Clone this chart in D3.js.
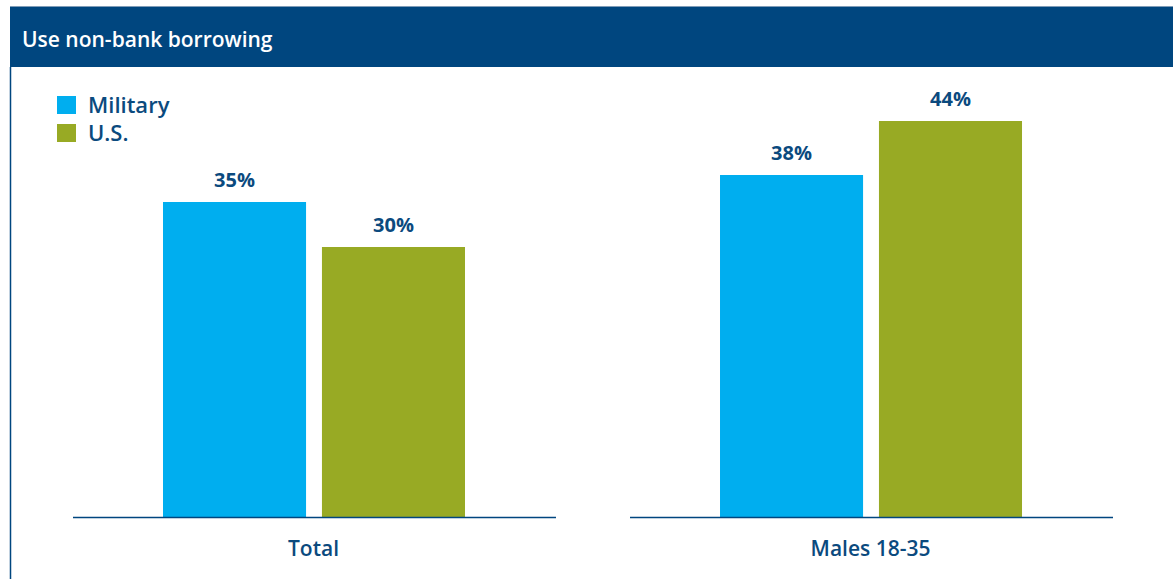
<!DOCTYPE html>
<html>
<head>
<meta charset="utf-8">
<script src="https://cdn.jsdelivr.net/npm/d3@7"></script>
<style>
  body { margin: 0; background: #fff; }
  svg { display: block; font-family: "Open Sans", sans-serif; }
</style>
</head>
<body>
<script>
// data
var categories = ["Total", "Males 18-35"];
var seriesNames = ["Military", "U.S."];
var military = [35, 38];
var us = [30, 44];
var colors = ["#00aeef", "#98aa24"];
var title = "Use non-bank borrowing";

var W = 1173, H = 579;
var textBlue = "#0b4a7e";
var headBlue = "#00467f";

var svg = d3.select("body").append("svg")
            .attr("width", W)
            .attr("height", H);

// header band
svg.append("rect")
   .attr("x", 10).attr("y", 6)
   .attr("width", W - 10).attr("height", 61)
   .style("fill", headBlue);
svg.append("line")
   .attr("x1", 10).attr("x2", W).attr("y1", 6.5).attr("y2", 6.5)
   .style("stroke", "#7f9cb8").style("stroke-width", 1);
svg.append("text")
   .attr("x", 22).attr("y", 47)
   .style("fill", "#fff")
   .style("font-size", "21px")
   .style("font-weight", 600)
   .text(title);

// left border
svg.append("line")
   .attr("x1", 10.5).attr("x2", 10.5).attr("y1", 67).attr("y2", H)
   .style("stroke", headBlue).style("stroke-width", 1.5);

// scales
var y = d3.scaleLinear().domain([0, 44]).range([517, 121]);
var x0 = d3.scaleBand().domain(categories).range([73, 1113]).paddingInner(0.1329);
var x1 = d3.scaleBand().domain(seriesNames).range([90, 392]).paddingInner(0.1);

var rows = categories.map(function(c, i){
  return {cat: c, vals: [
    {name: seriesNames[0], v: military[i]},
    {name: seriesNames[1], v: us[i]}
  ]};
});

var panel = svg.selectAll("g.panel")
               .data(rows)
               .enter()
               .append("g")
               .attr("class", "panel")
               .attr("transform", function(d){ return "translate(" + x0(d.cat) + ",0)"; });

panel.selectAll("rect")
     .data(function(d){ return d.vals; })
     .enter()
     .append("rect")
     .attr("x", function(d){ return x1(d.name); })
     .attr("y", function(d){ return y(d.v); })
     .attr("width", x1.bandwidth())
     .attr("height", function(d){ return y(0) - y(d.v); })
     .style("fill", function(d, i){ return colors[i]; });

panel.selectAll("text.val")
     .data(function(d){ return d.vals; })
     .enter()
     .append("text")
     .attr("class", "val")
     .attr("x", function(d){ return x1(d.name) + x1.bandwidth() / 2; })
     .attr("y", function(d){ return y(d.v) - 15; })
     .attr("text-anchor", "middle")
     .style("fill", textBlue)
     .style("font-size", "20px")
     .style("font-weight", "bold")
     .text(function(d){ return d.v + "%"; });

// baseline for each panel
panel.append("line")
     .attr("x1", 0).attr("x2", x0.bandwidth())
     .attr("y1", y(0) + 0.5).attr("y2", y(0) + 0.5)
     .style("stroke", headBlue).style("stroke-width", 1.5);

panel.append("text")
     .attr("x", x0.bandwidth() / 2 - 1)
     .attr("y", 556)
     .attr("text-anchor", "middle")
     .style("fill", textBlue)
     .style("font-size", "21px")
     .style("font-weight", 600)
     .text(function(d){ return d.cat; });

// legend
var legend = svg.selectAll("g.legend")
                .data(seriesNames)
                .enter()
                .append("g")
                .attr("class", "legend")
                .attr("transform", function(d, i){ return "translate(57," + (96 + i * 28) + ")"; });
legend.append("rect")
      .attr("width", 19).attr("height", 18)
      .style("fill", function(d, i){ return colors[i]; });
legend.append("text")
      .attr("x", 31).attr("y", 17)
      .style("fill", textBlue)
      .style("font-size", "22px")
      .style("font-weight", 600)
      .text(function(d){ return d; });
</script>
</body>
</html>
